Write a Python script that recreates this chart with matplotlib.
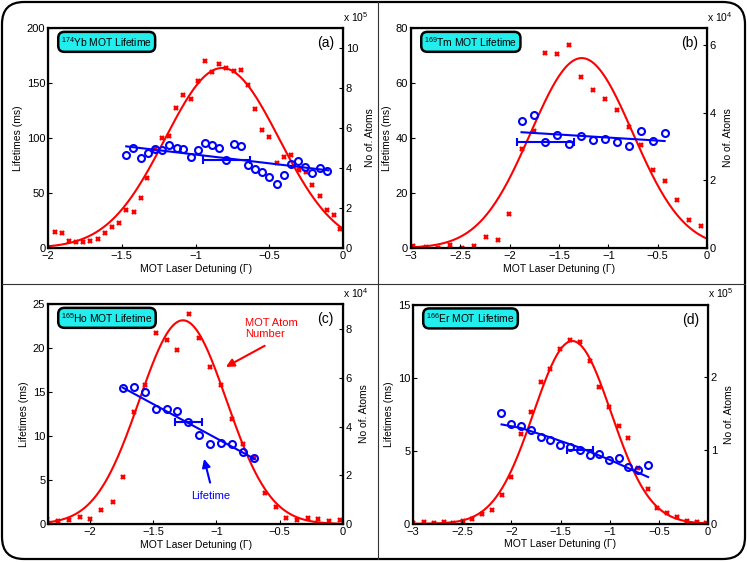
import matplotlib
matplotlib.use('Agg')
import matplotlib.pyplot as plt
import numpy as np
from matplotlib.patches import FancyBboxPatch
from matplotlib.lines import Line2D
from matplotlib.ticker import FuncFormatter

plt.rcParams['font.family'] = ['Liberation Sans', 'DejaVu Sans']
plt.rcParams['mathtext.fontset'] = 'custom'
plt.rcParams['mathtext.rm'] = 'Liberation Sans'
plt.rcParams['font.size'] = 7.5

# ---------------- data ----------------
# (a) 174Yb : atoms in units of 1e5, lifetimes in ms
yb_det = [-2.01, -1.955, -1.907, -1.86, -1.81, -1.76, -1.713, -1.663, -1.614, -1.566,
          -1.519, -1.469, -1.42, -1.37, -1.327, -1.275, -1.227, -1.178, -1.13, -1.083,
          -1.033, -0.985, -0.937, -0.886, -0.841, -0.791, -0.741, -0.694, -0.644, -0.597,
          -0.547, -0.499, -0.449, -0.402, -0.354, -0.301, -0.253, -0.21, -0.158, -0.108,
          -0.063, -0.018]
yb_atoms = [0.05, 0.8, 0.75, 0.35, 0.3, 0.32, 0.37, 0.45, 0.77, 1.03,
            1.27, 1.88, 1.82, 2.52, 3.5, 4.93, 5.48, 5.6, 7.0, 7.65,
            7.47, 8.37, 9.35, 8.82, 9.22, 9.0, 8.87, 8.9, 8.13, 6.97,
            5.88, 5.55, 4.23, 4.53, 4.65, 3.92, 3.8, 3.15, 2.58, 1.88,
            1.65, 0.95]
yb_lt_det = [-1.471, -1.421, -1.372, -1.324, -1.275, -1.225, -1.177, -1.128, -1.083, -1.033,
             -0.985, -0.936, -0.888, -0.838, -0.791, -0.741, -0.694, -0.644, -0.597, -0.547,
             -0.499, -0.449, -0.402, -0.355, -0.303, -0.255, -0.208, -0.158, -0.108]
yb_lt = [84.5, 91.2, 82.1, 86.1, 90.0, 89.4, 93.9, 91.2, 90.3, 82.4,
         89.1, 95.5, 93.3, 90.6, 79.7, 94.8, 92.7, 75.2, 71.8, 69.4,
         64.5, 58.5, 66.4, 76.1, 79.4, 73.6, 68.5, 72.7, 70.0]
yb_gauss = [9.0, -0.82, 0.387]          # amplitude, centre, sigma
yb_fit_x = [-1.47, -0.10]
yb_fit_y = [92.4, 70.6]
yb_err = [-0.79, 80.0, 0.16]            # x, y, xerr

# (b) 169Tm : atoms in units of 1e4
tm_det = [-2.976, -2.848, -2.726, -2.605, -2.483, -2.361, -2.24, -2.118, -2.003, -1.875,
          -1.757, -1.639, -1.52, -1.395, -1.274, -1.152, -1.034, -0.912, -0.791, -0.669,
          -0.551, -0.429, -0.307, -0.186, -0.064]
tm_atoms = [0.07, 0.04, 0.01, 0.1, 0.0, 0.06, 0.33, 0.23, 1.01, 2.92,
            3.47, 5.78, 5.75, 6.0, 5.05, 4.67, 4.41, 4.07, 3.57, 3.05,
            2.3, 1.98, 1.42, 0.84, 0.66]
tm_lt_det = [-1.878, -1.757, -1.639, -1.52, -1.395, -1.274, -1.152, -1.034, -0.912, -0.791,
             -0.669, -0.551, -0.429]
tm_lt = [46.0, 48.2, 38.5, 41.0, 37.9, 40.6, 39.3, 39.8, 38.4, 37.1, 42.7, 38.9, 41.9]
tm_gauss = [5.62, -1.27, 0.517]
tm_fit_x = [-1.88, -0.43]
tm_fit_y = [42.1, 38.9]
tm_err = [-1.64, 38.5, 0.29]

# (c) 165Ho : atoms in units of 1e4
ho_det = [-2.335, -2.248, -2.164, -2.079, -1.995, -1.908, -1.818, -1.736, -1.652, -1.567,
          -1.48, -1.393, -1.309, -1.219, -1.135, -1.05, -0.966, -0.879, -0.794, -0.707,
          -0.62, -0.533, -0.451, -0.367, -0.28, -0.195, -0.108, -0.021]
ho_atoms = [0.21, 0.14, 0.15, 0.27, 0.22, 0.56, 0.92, 1.95, 4.62, 5.73,
            7.85, 7.58, 7.14, 8.64, 7.64, 6.44, 5.71, 4.32, 3.29, 2.71,
            1.29, 0.71, 0.25, 0.18, 0.23, 0.19, 0.14, 0.15]
ho_lt_det = [-1.736, -1.649, -1.565, -1.48, -1.393, -1.309, -1.222, -1.135, -1.05, -0.966,
             -0.879, -0.794, -0.707]
ho_lt = [15.45, 15.53, 15.0, 13.07, 13.1, 12.88, 11.55, 10.15, 9.05, 9.24, 9.05, 8.18, 7.5]
ho_gauss = [8.37, -1.265, 0.345]
ho_fit_x = [-1.74, -0.70]
ho_fit_y = [15.5, 7.4]
ho_err = [-1.222, 11.55, 0.107]

# (d) 166Er : atoms in units of 1e5
er_det = [-3.0, -2.892, -2.79, -2.688, -2.593, -2.492, -2.397, -2.298, -2.197, -2.098,
          -2.0, -1.898, -1.797, -1.702, -1.603, -1.505, -1.403, -1.302, -1.2, -1.105,
          -1.003, -0.908, -0.81, -0.712, -0.614, -0.515, -0.414, -0.315, -0.214, -0.112,
          -0.017]
er_atoms = [0.014, 0.023, 0.014, 0.023, 0.014, 0.032, 0.068, 0.127, 0.191, 0.395,
            0.636, 1.227, 1.527, 1.936, 2.105, 2.377, 2.505, 2.473, 2.214, 1.859,
            1.591, 1.332, 1.173, 0.764, 0.477, 0.218, 0.145, 0.091, 0.036, 0.023,
            0.014]
er_lt_det = [-2.102, -2.0, -1.898, -1.797, -1.702, -1.603, -1.505, -1.403, -1.302, -1.2,
             -1.105, -1.003, -0.908, -0.81, -0.712, -0.614]
er_lt = [7.58, 6.8, 6.67, 6.44, 5.96, 5.71, 5.37, 5.23, 5.05, 4.68,
         4.77, 4.38, 4.47, 3.92, 3.68, 4.0]
er_gauss = [2.49, -1.38, 0.395]
er_fit_x = [-2.10, -1.90, -1.60, -1.30, -1.00, -0.71, -0.61]
er_fit_y = [6.8, 6.55, 5.9, 5.2, 4.38, 3.5, 3.2]
er_err = [-1.30, 5.05, 0.13]

panels = [
    dict(det=yb_det, atoms=yb_atoms, lt_det=yb_lt_det, lt=yb_lt, g=yb_gauss,
         fx=yb_fit_x, fy=yb_fit_y, err=yb_err, xlim=(-2, 0), xt=np.arange(-2, 0.01, 0.5),
         ylim=(0, 200), yt=[0, 50, 100, 150, 200], y2lim=(0, 11), y2t=[0, 2, 4, 6, 8, 10],
         exp='5', tag='(a)', name=r'$^{174}$Yb MOT Lifetime',
         pos=[0.0643, 0.5587, 0.395, 0.3915]),
    dict(det=tm_det, atoms=tm_atoms, lt_det=tm_lt_det, lt=tm_lt, g=tm_gauss,
         fx=tm_fit_x, fy=tm_fit_y, err=tm_err, xlim=(-3, 0), xt=np.arange(-3, 0.01, 0.5),
         ylim=(0, 80), yt=[0, 20, 40, 60, 80], y2lim=(0, 6.51), y2t=[0, 2, 4, 6],
         exp='4', tag='(b)', name=r'$^{169}$Tm MOT Lifetime',
         pos=[0.5502, 0.5587, 0.3963, 0.3915]),
    dict(det=ho_det, atoms=ho_atoms, lt_det=ho_lt_det, lt=ho_lt, g=ho_gauss,
         fx=ho_fit_x, fy=ho_fit_y, err=ho_err, xlim=(-2.33, 0), xt=np.arange(-2, 0.01, 0.5),
         ylim=(0, 25), yt=[0, 5, 10, 15, 20, 25], y2lim=(0, 9.04), y2t=[0, 2, 4, 6, 8],
         exp='4', tag='(c)', name=r'$^{165}$Ho MOT Lifetime',
         pos=[0.0643, 0.0676, 0.395, 0.3915]),
    dict(det=er_det, atoms=er_atoms, lt_det=er_lt_det, lt=er_lt, g=er_gauss,
         fx=er_fit_x, fy=er_fit_y, err=er_err, xlim=(-3, 0), xt=np.arange(-3, 0.01, 0.5),
         ylim=(0, 15), yt=[0, 5, 10, 15], y2lim=(0, 2.986), y2t=[0, 1, 2],
         exp='5', tag='(d)', name=r'$^{166}$Er MOT Lifetime',
         pos=[0.5529, 0.068, 0.395, 0.39]),
]

fmt = FuncFormatter(lambda v, p: ('%g' % round(v, 3)).replace('-', '\u2212'))

fig = plt.figure(figsize=(7.47, 5.62), dpi=100)

# rounded outer frame and the dividing cross
frame = FancyBboxPatch((0.02, 0.03), 7.43, 5.57, boxstyle='round,pad=0,rounding_size=0.22',
                       transform=fig.dpi_scale_trans, fill=False, edgecolor='black', lw=1.6)
fig.patches.append(frame)
fig.lines.append(Line2D([3.777, 3.777], [0.03, 5.60], transform=fig.dpi_scale_trans,
                        color='#333333', lw=0.8))
fig.lines.append(Line2D([0.02, 7.45], [2.783, 2.783], transform=fig.dpi_scale_trans,
                        color='#333333', lw=0.8))

axes = []
for p in panels:
    ax = fig.add_axes(p['pos'])
    ax2 = ax.twinx()
    ax.set_zorder(ax2.get_zorder() + 1)
    ax.patch.set_visible(False)

    # atom number (red) on the right axis
    g = p['g']
    xs = np.linspace(p['xlim'][0], p['xlim'][1], 300)
    ax2.plot(xs, g[0] * np.exp(-(xs - g[1]) ** 2 / (2 * g[2] ** 2)), color='red', lw=1.5)
    ax2.plot(p['det'], p['atoms'], 'x', color='red', ms=3.5, mew=1.7)

    # lifetime (blue) on the left axis
    ax.plot(p['lt_det'], p['lt'], 'o', mfc='none', mec='blue', ms=5, mew=1.5)
    ax.plot(p['fx'], p['fy'], color='blue', lw=1.5)
    e = p['err']
    ax.errorbar([e[0]], [e[1]], xerr=[e[2]], fmt='none', ecolor='blue', elinewidth=1.5,
                capsize=3, capthick=1.5)

    ax.set_xlim(p['xlim'])
    ax.set_ylim(p['ylim'])
    ax2.set_ylim(p['y2lim'])
    ax.set_xticks(p['xt'])
    ax.set_yticks(p['yt'])
    ax2.set_yticks(p['y2t'])
    ax.xaxis.set_major_formatter(fmt)
    ax.yaxis.set_major_formatter(fmt)
    ax2.yaxis.set_major_formatter(fmt)
    ax.tick_params(direction='in', length=3, width=0.8, labelsize=8, pad=2)
    ax2.tick_params(direction='in', length=3, width=0.8, labelsize=8, pad=2)
    for sp in ax2.spines.values():
        sp.set_linewidth(1.6)

    ax.set_xlabel('MOT Laser Detuning (\u0393)', fontsize=7.5, labelpad=2)
    ax.set_ylabel('Lifetimes (ms)', fontsize=7.5, labelpad=3)
    ax2.set_ylabel('No of. Atoms', fontsize=7.5, labelpad=5)

    ax2.text(1.0, 1.02, r'x 10$^{%s}$' % p['exp'], transform=ax2.transAxes,
             ha='left', va='bottom', fontsize=7.5)
    ax2.text(0.94, 0.93, p['tag'], transform=ax2.transAxes, ha='center', va='center',
             fontsize=10)
    ax2.text(0.045, 0.937, p['name'], transform=ax2.transAxes, ha='left', va='center',
             fontsize=7.4, bbox=dict(boxstyle='round,pad=0.3,rounding_size=0.6',
                                     fc='#22eeee', ec='black', lw=1.8))
    axes.append(ax)

# annotations in panel (c)
axc = axes[2]
axc.text(-0.773, 23.4, 'MOT Atom\nNumber', color='red', fontsize=8, ha='left', va='top',
         linespacing=1.1)
axc.annotate('', xy=(-0.945, 17.7), xytext=(-0.60, 20.4),
             arrowprops=dict(arrowstyle='-|>', color='red', lw=1.5, mutation_scale=12))
axc.text(-1.203, 3.14, 'Lifetime', color='blue', fontsize=8, ha='left', va='center')
axc.annotate('', xy=(-1.103, 7.7), xytext=(-1.045, 4.4),
             arrowprops=dict(arrowstyle='-|>', color='blue', lw=1.5, mutation_scale=12))

fig.savefig('out.png', dpi=100)
